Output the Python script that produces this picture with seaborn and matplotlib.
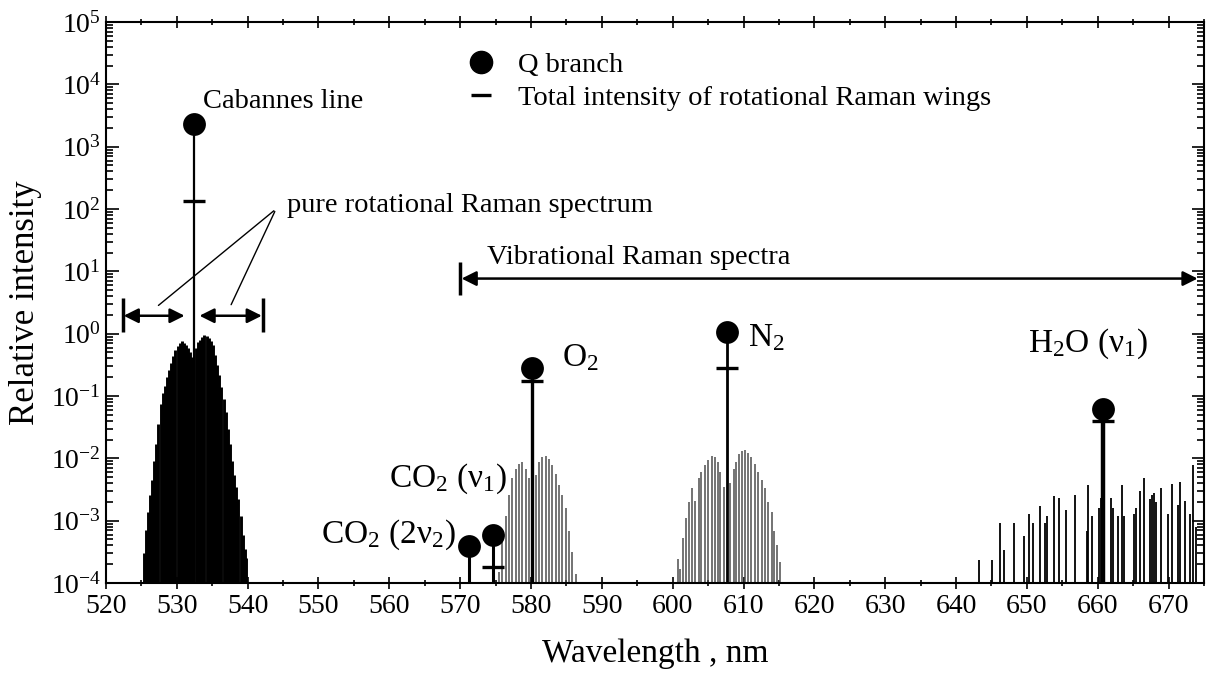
"""
plot.py - Raman spectrum of air excited at 532 nm (log intensity vs wavelength).

Output: out.png
"""

import numpy as np
import seaborn as sns

import matplotlib
matplotlib.use("Agg")
import matplotlib.pyplot as plt
import matplotlib.ticker as ticker
from matplotlib.lines import Line2D

# --------------------------------------------------------------------------
# Data
# --------------------------------------------------------------------------

# Q branches (filled circles) and total intensity of rotational wings (dashes)
Q_NAMES = ["Cabannes", "CO2 (2v2)", "CO2 (v1)", "O2", "N2", "H2O (v1)"]
Q_WL = [532.4, 571.3, 574.7, 580.2, 607.65, 660.7]
Q_INT = [2.27e3, 3.9e-4, 5.9e-4, 0.284, 1.07, 0.062]

WING_WL = [532.4, 574.7, 580.2, 607.65, 660.7]
WING_INT = [135.0, 1.8e-4, 0.174, 0.277, 0.040]

# pure rotational Raman lines around the laser line
ROT_WL = [525.3, 525.6, 525.9, 526.2, 526.5, 526.8, 527.1, 527.4, 527.7, 528.0,
          528.3, 528.6, 528.9, 529.2, 529.5, 529.8, 530.1, 530.4, 530.7, 531.0,
          531.3, 531.6, 531.9, 532.15, 532.65, 533.0, 533.3, 533.6, 533.9, 534.2,
          534.5, 534.8, 535.1, 535.4, 535.7, 536.0, 536.3, 536.6, 536.9, 537.2,
          537.5, 537.8, 538.1, 538.4, 538.7, 539.0, 539.3, 539.6, 539.8]
ROT_INT = [3.0e-4, 7.0e-4, 1.4e-3, 2.6e-3, 4.5e-3, 9.0e-3, 1.7e-2, 3.5e-2, 7.5e-2, 0.11,
           0.145, 0.20, 0.26, 0.34, 0.44, 0.55, 0.63, 0.72, 0.76, 0.70,
           0.66, 0.60, 0.50, 0.42, 0.58, 0.74, 0.80, 0.90, 0.95, 0.92,
           0.85, 0.75, 0.66, 0.45, 0.32, 0.22, 0.14, 0.09, 0.055, 0.030,
           0.017, 9.0e-3, 5.5e-3, 3.5e-3, 2.2e-3, 1.2e-3, 6.0e-4, 3.5e-4, 2.5e-4]

# O2 vibrational-rotational lines
O2_WL = [575.49, 575.96, 576.43, 576.90, 577.37, 577.85, 578.31, 578.78, 579.25, 579.72,
         580.66, 581.13, 581.59, 582.07, 582.54, 583.00, 583.48, 583.94, 584.41, 584.89,
         585.35, 585.82, 586.29]
O2_INT = [1.5e-4, 5.2e-4, 1.2e-3, 2.6e-3, 4.8e-3, 6.8e-3, 8.1e-3, 8.7e-3, 6.8e-3, 4.8e-3,
          5.4e-3, 8.7e-3, 1.05e-2, 1.1e-2, 9.8e-3, 7.8e-3, 5.6e-3, 3.7e-3, 2.6e-3, 1.6e-3,
          6.8e-4, 3.2e-4, 1.4e-4]

# N2 vibrational-rotational lines
N2_WL = [600.70, 601.08, 601.45, 601.92, 602.25, 602.72, 603.19, 603.66, 604.04, 604.51,
         604.98, 605.54, 606.01, 606.39, 606.72, 607.18, 608.12, 608.59, 608.97, 609.39,
         609.76, 610.24, 610.61, 611.08, 611.65, 612.11, 612.58, 613.05, 613.52, 613.99,
         614.37, 614.79, 615.17]
N2_INT = [2.4e-4, 1.7e-4, 5.2e-4, 1.1e-3, 2.0e-3, 3.3e-3, 2.1e-3, 4.8e-3, 6.0e-3, 7.8e-3,
          9.3e-3, 1.1e-2, 1.05e-2, 8.7e-3, 6.0e-3, 3.5e-3, 4.0e-3, 6.8e-3, 8.7e-3, 1.17e-2,
          1.29e-2, 1.35e-2, 1.23e-2, 1.05e-2, 8.1e-3, 6.0e-3, 4.5e-3, 3.3e-3, 2.0e-3, 1.4e-3,
          6.8e-4, 4.1e-4, 2.2e-4]

# H2O vibrational-rotational lines
H2O_WL = [643.24, 645.03, 646.20, 646.76, 648.17, 649.53, 650.28, 650.85, 651.88, 652.54,
          652.91, 653.76, 654.60, 655.54, 656.81, 658.45, 658.59, 659.15, 660.24, 660.47,
          661.87, 662.11, 662.82, 663.38, 663.76, 665.07, 665.44, 665.96, 666.48, 667.37,
          667.65, 667.89, 668.21, 668.92, 669.86, 670.42, 671.27, 671.64, 672.30, 673.05,
          673.38, 673.85]
H2O_INT = [2.3e-4, 2.3e-4, 9.3e-4, 3.4e-4, 9.3e-4, 5.6e-4, 1.26e-3, 9.3e-4, 1.7e-3, 9.3e-4,
           1.17e-3, 2.5e-3, 2.3e-3, 1.5e-3, 2.6e-3, 6.9e-4, 3.8e-3, 1.17e-3, 1.6e-3, 2.3e-3,
           2.3e-3, 1.6e-3, 1.17e-3, 3.8e-3, 1.17e-3, 1.26e-3, 1.6e-3, 3.0e-3, 4.8e-3, 2.2e-3,
           2.6e-3, 2.8e-3, 2.0e-3, 3.3e-3, 1.3e-3, 3.9e-3, 1.8e-3, 4.2e-3, 2.1e-3, 1.3e-3,
           7.8e-3, 8.0e-4]

# --------------------------------------------------------------------------
# Style
# --------------------------------------------------------------------------

STEM_LW = {"Cabannes": 1.6, "CO2 (2v2)": 2.2, "CO2 (v1)": 2.2,
           "O2": 2.4, "N2": 2.0, "H2O (v1)": 3.2}

sns.set_theme(style="ticks")
plt.rcParams["font.family"] = ["Liberation Serif", "DejaVu Serif"]
plt.rcParams["mathtext.fontset"] = "custom"
plt.rcParams["mathtext.rm"] = "Liberation Serif"
plt.rcParams["mathtext.it"] = "Liberation Serif:italic"
plt.rcParams["mathtext.bf"] = "Liberation Serif:bold"
for key in ("text.color", "axes.labelcolor", "xtick.color", "ytick.color"):
    plt.rcParams[key] = "black"


def main():
    fig = plt.figure(figsize=(12.07, 6.73), dpi=100)
    ax = fig.add_axes([0.0878, 0.1337, 0.9097, 0.8336])

    ymin = 1e-4
    ax.set_yscale("log")
    ax.set_xlim(520, 675)
    ax.set_ylim(ymin, 1e5)

    # line spectra
    ax.vlines(ROT_WL, ymin, ROT_INT, color="black", lw=2.1, zorder=2)
    ax.vlines(O2_WL, ymin, O2_INT, color="0.3", lw=1.1, zorder=2)
    ax.vlines(N2_WL, ymin, N2_INT, color="0.3", lw=1.1, zorder=2)
    ax.vlines(H2O_WL, ymin, H2O_INT, color="black", lw=1.3, zorder=2)

    # Q branch stems
    for name, wl, val in zip(Q_NAMES, Q_WL, Q_INT):
        ax.vlines(wl, ymin, val, color="black", lw=STEM_LW[name], zorder=3)

    sns.scatterplot(x=Q_WL, y=Q_INT, s=270, color="black", marker="o",
                    linewidth=0, ax=ax, zorder=4, clip_on=False)
    sns.scatterplot(x=WING_WL, y=WING_INT, s=230, color="black", marker="_",
                    linewidth=2.4, ax=ax, zorder=4)

    # species labels
    lab = dict(fontsize=24, va="baseline", ha="left")
    ax.text(533.7, 5.4e3, "Cabannes line", fontsize=20.5, va="center")
    ax.text(584.4, 0.30, "O$_2$", **lab)
    ax.text(610.7, 0.63, "N$_2$", **lab)
    ax.text(650.1, 0.52, "H$_2$O (ν$_1$)", **lab)
    ax.text(560.0, 3.5e-3, "CO$_2$ (ν$_1$)", **lab)
    ax.text(550.4, 4.4e-4, "CO$_2$ (2ν$_2$)", **lab)

    # pure rotational Raman spectrum
    ax.text(545.5, 113, "pure rotational Raman spectrum", fontsize=20.5, va="center")
    for xe in (527.1, 537.5):
        ax.annotate("", xy=(xe, 2.66), xytext=(544.0, 100),
                    arrowprops=dict(arrowstyle="-", color="black", lw=1.0))
    arr = dict(arrowstyle="<|-|>", color="black", lw=1.8, mutation_scale=22,
               shrinkA=0, shrinkB=0)
    ax.annotate("", xy=(522.5, 1.94), xytext=(531.1, 1.94), arrowprops=arr)
    ax.annotate("", xy=(533.2, 1.94), xytext=(542.0, 1.94), arrowprops=arr)
    ax.vlines([522.35, 542.15], 1.08, 3.74, color="black", lw=2.5)

    # vibrational Raman spectra
    ax.text(573.8, 16.8, "Vibrational Raman spectra", fontsize=20.5, va="center")
    ax.annotate("", xy=(570.2, 7.66), xytext=(674.1, 7.66), arrowprops=arr)
    ax.vlines(569.96, 4.18, 14.0, color="black", lw=2.5)

    # legend
    handles = [
        Line2D([], [], marker="o", color="black", ls="none", markersize=16),
        Line2D([], [], marker="_", color="black", ls="none", markersize=15, mew=2.4),
    ]
    ax.legend(handles, ["Q branch", "Total intensity of rotational Raman wings"],
              loc="upper left", bbox_to_anchor=(0.318, 0.967), frameon=False,
              fontsize=20.5, handlelength=1.0, handletextpad=0.8,
              labelspacing=0.25, borderaxespad=0, labelcolor="black")

    # axes and ticks
    ax.xaxis.set_major_locator(ticker.MultipleLocator(10))
    ax.xaxis.set_minor_locator(ticker.MultipleLocator(5))
    ax.yaxis.set_major_locator(ticker.LogLocator(base=10, numticks=20))
    ax.yaxis.set_minor_locator(ticker.LogLocator(base=10, subs=np.arange(2, 10), numticks=20))
    ax.yaxis.set_minor_formatter(ticker.NullFormatter())
    ax.tick_params(axis="both", which="both", top=True, right=True, direction="in",
                   labelsize=20, width=1.2, colors="black")
    ax.tick_params(axis="x", which="both", bottom=True, direction="inout")
    ax.tick_params(which="major", length=9)
    ax.tick_params(which="minor", length=5)
    for s in ax.spines.values():
        s.set_linewidth(1.5)
        s.set_color("black")

    ax.set_xlabel("Wavelength , nm", fontsize=24, labelpad=14)
    ax.set_ylabel("Relative intensity", fontsize=25, labelpad=6)

    fig.savefig("out.png", dpi=100)
    plt.close(fig)


if __name__ == "__main__":
    main()
